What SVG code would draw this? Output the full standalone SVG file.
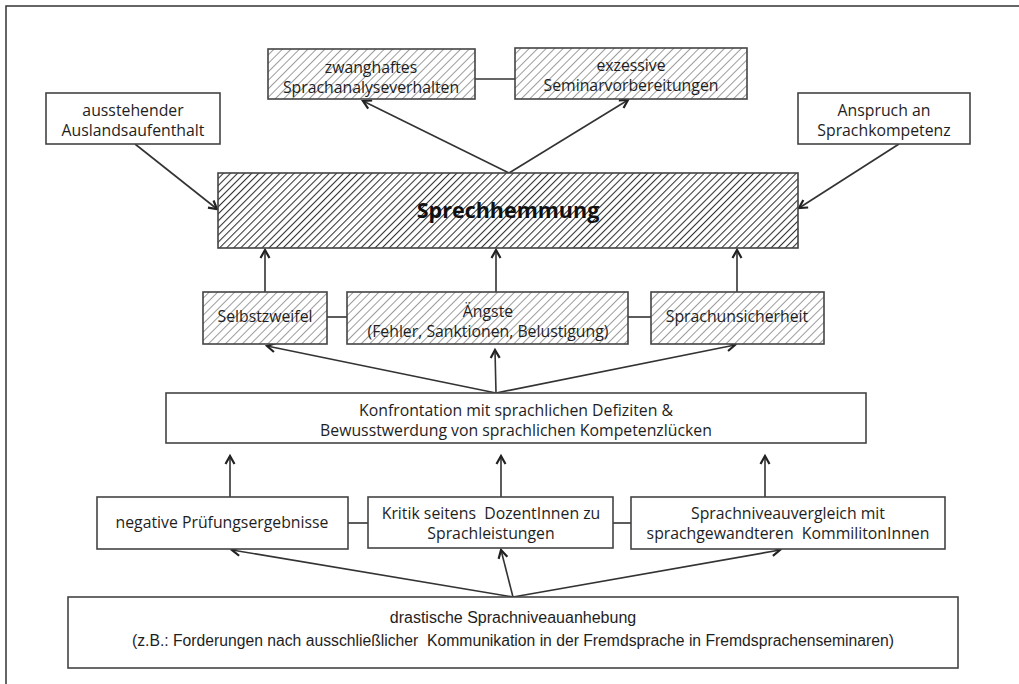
<svg xmlns="http://www.w3.org/2000/svg" width="1019" height="684" viewBox="0 0 1019 684">
<defs>
<pattern id="hatchLight" patternUnits="userSpaceOnUse" width="6" height="6" patternTransform="rotate(45)">
<rect width="6" height="6" fill="#fff"/>
<line x1="0" y1="0" x2="0" y2="6" stroke="#8a8a8a" stroke-width="1.7"/>
</pattern>
<pattern id="hatchDark" patternUnits="userSpaceOnUse" width="5" height="5" patternTransform="rotate(45)">
<rect width="5" height="5" fill="#fff"/>
<line x1="0" y1="0" x2="0" y2="5" stroke="#333" stroke-width="2.1"/>
</pattern>
<marker id="arr" markerWidth="12" markerHeight="12" refX="9" refY="6" orient="auto" markerUnits="userSpaceOnUse">
<path d="M1,1.5 L9,6 L1,10.5" fill="none" stroke="#222" stroke-width="2.2"/>
</marker>
</defs>
<style>
.box{fill:#fff;stroke:#444;stroke-width:1.6}
.hl{fill:url(#hatchLight);stroke:#444;stroke-width:1.6}
.hd{fill:url(#hatchDark);stroke:#444;stroke-width:1.6}
.t{font-family:"Open Sans","Liberation Sans",sans-serif;font-size:15.8px;font-weight:500;fill:#1e1e1e;text-anchor:middle}
.tc{font-family:"Liberation Sans",sans-serif;font-size:16px;fill:#1e1e1e;text-anchor:middle}
.title{font-family:"Open Sans","Liberation Sans",sans-serif;font-size:21.5px;font-weight:bold;fill:#111;text-anchor:middle}
.c{stroke:#333;stroke-width:1.6;fill:none}
.a{stroke:#333;stroke-width:1.6;fill:none;marker-end:url(#arr)}
</style>
<rect x="6" y="6" width="1100" height="800" fill="#fff" stroke="#333" stroke-width="1.5"/>

<g id="connectors">
<line class="c" x1="475" y1="79" x2="515" y2="79"/>
<line class="a" x1="509" y1="173" x2="363" y2="101"/>
<line class="a" x1="509" y1="173" x2="628" y2="100"/>
<line class="a" x1="135" y1="144" x2="217" y2="209"/>
<line class="a" x1="899" y1="144" x2="799" y2="208"/>
<line class="a" x1="265" y1="292" x2="265" y2="250"/>
<line class="a" x1="496" y1="292" x2="496" y2="250"/>
<line class="a" x1="737" y1="292" x2="737" y2="250"/>
<line class="c" x1="327" y1="317" x2="347" y2="317"/>
<line class="c" x1="628" y1="317" x2="651" y2="317"/>
<line class="a" x1="496" y1="393" x2="267" y2="346"/>
<line class="a" x1="496" y1="393" x2="495" y2="350"/>
<line class="a" x1="496" y1="393" x2="735" y2="345"/>
<line class="a" x1="230" y1="497" x2="230" y2="456"/>
<line class="a" x1="501" y1="497" x2="501" y2="456"/>
<line class="a" x1="765" y1="497" x2="765" y2="456"/>
<line class="c" x1="348" y1="523" x2="368" y2="523"/>
<line class="c" x1="613" y1="523" x2="631" y2="523"/>
<line class="a" x1="513" y1="597" x2="232" y2="550"/>
<line class="a" x1="513" y1="597" x2="501" y2="550"/>
<line class="a" x1="513" y1="597" x2="780" y2="550"/>
</g>

<g id="zwanghaftes">
<rect class="hl" x="268" y="49" width="207" height="50"/>
<text class="t" x="371" y="73">zwanghaftes</text>
<text class="t" x="371" y="93">Sprachanalyseverhalten</text>
</g>
<g id="exzessive">
<rect class="hl" x="515" y="48" width="232" height="51"/>
<text class="t" x="631" y="71">exzessive</text>
<text class="t" x="631" y="91">Seminarvorbereitungen</text>
</g>
<g id="auslandsaufenthalt">
<rect class="box" x="46" y="93" width="174" height="51"/>
<text class="t" x="133" y="116">ausstehender</text>
<text class="t" x="133" y="136">Auslandsaufenthalt</text>
</g>
<g id="anspruch">
<rect class="box" x="798" y="93" width="172" height="51"/>
<text class="t" x="884" y="116">Anspruch an</text>
<text class="t" x="884" y="136">Sprachkompetenz</text>
</g>
<g id="sprechhemmung">
<rect class="hd" x="218" y="173" width="580" height="75"/>
<text class="title" x="508" y="218">Sprechhemmung</text>
</g>
<g id="selbstzweifel">
<rect class="hl" x="203" y="292" width="124" height="52"/>
<text class="t" x="265" y="322">Selbstzweifel</text>
</g>
<g id="aengste">
<rect class="hl" x="347" y="292" width="281" height="52"/>
<text class="t" x="488" y="317">Ängste</text>
<text class="t" x="488" y="337">(Fehler, Sanktionen, Belustigung)</text>
</g>
<g id="sprachunsicherheit">
<rect class="hl" x="651" y="292" width="173" height="52"/>
<text class="t" x="737" y="322">Sprachunsicherheit</text>
</g>
<g id="konfrontation">
<rect class="box" x="166" y="393" width="700" height="50"/>
<text class="t" x="516" y="416">Konfrontation mit sprachlichen Defiziten &amp;</text>
<text class="t" x="516" y="436">Bewusstwerdung von sprachlichen Kompetenzlücken</text>
</g>
<g id="pruefung">
<rect class="box" x="97" y="497" width="251" height="52"/>
<text class="t" x="222" y="528">negative Prüfungsergebnisse</text>
</g>
<g id="kritik">
<rect class="box" x="368" y="497" width="245" height="51"/>
<text class="t" x="491" y="519" xml:space="preserve">Kritik seitens  DozentInnen zu</text>
<text class="t" x="491" y="539">Sprachleistungen</text>
</g>
<g id="sprachniveauvergleich">
<rect class="box" x="631" y="497" width="314" height="52"/>
<text class="t" x="788" y="519">Sprachniveauvergleich mit</text>
<text class="t" x="788" y="539" xml:space="preserve">sprachgewandteren  KommilitonInnen</text>
</g>
<g id="drastisch">
<rect class="box" x="68" y="597" width="890" height="71"/>
<text class="tc" x="513" y="623">drastische Sprachniveauanhebung</text>
<text class="tc" x="513" y="646" xml:space="preserve" textLength="762" lengthAdjust="spacingAndGlyphs">(z.B.: Forderungen nach ausschließlicher  Kommunikation in der Fremdsprache in Fremdsprachenseminaren)</text>
</g>
</svg>
